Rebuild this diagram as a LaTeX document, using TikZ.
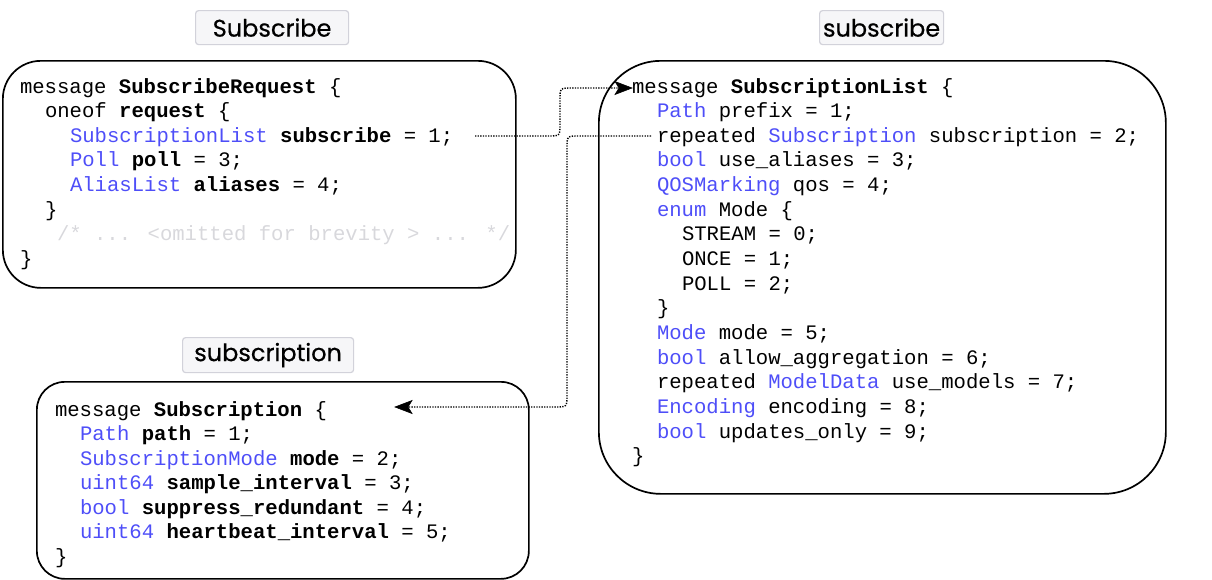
\documentclass[tikz,border=0pt]{standalone}
\usepackage{fontspec}
\newfontfamily\codefont{Liberation Mono}
\newfontfamily\labelfont[FakeBold=0.5]{Poppins}
\definecolor{tblue}{RGB}{78,78,248}
\definecolor{cgrey}{RGB}{216,216,220}
\definecolor{lblborder}{RGB}{210,210,218}
\definecolor{lblfill}{RGB}{246,246,248}
\newcommand\ty[1]{\textcolor{tblue}{#1}}
\newcommand\codeline[4]{\node[code] (#1) at (#2,#3) {#4};}
\tikzset{
  code/.style={anchor=base west, inner sep=0pt, outer sep=0pt, font=\codefont\fontsize{20.6}{24.6}\selectfont},
  msgbox/.style={draw=black, line width=1.7pt, anchor=north west, inner sep=0pt},
  lbl/.style={draw=lblborder, fill=lblfill, line width=1.2pt, rounded corners=3pt, anchor=north west, inner sep=0pt, font=\labelfont\fontsize{24}{27}\selectfont},
  link/.style={line width=1.4pt, dash pattern=on 1.3pt off 1.3pt},
  headfill/.style={fill=black, draw=black, line width=0.6pt, line join=miter}
}
\begin{document}
\begin{tikzpicture}[x=1pt,y=-1pt]
\useasboundingbox (0,0) rectangle (1212,579);
% boxes
\node[msgbox, rounded corners=38pt, minimum width=513pt, minimum height=227pt] (reqbox) at (2,60) {};
\node[msgbox, rounded corners=62pt, minimum width=567pt, minimum height=433pt] (listbox) at (598,60) {};
\node[msgbox, rounded corners=28pt, minimum width=492pt, minimum height=197pt] (subbox) at (36,381) {};
% labels
\node[lbl, minimum width=153pt, minimum height=34pt] (lblreq) at (195,10) {Subscribe};
\node[lbl, minimum width=124pt, minimum height=34pt] (lbllist) at (819,10) {subscribe};
\node[lbl, minimum width=171pt, minimum height=35pt] (lblsub) at (182,337) {subscription};
% SubscribeRequest
\codeline{r1}{20}{93}{message \textbf{SubscribeRequest} \{}
\codeline{r2}{45}{117.6}{oneof \textbf{request} \{}
\codeline{r3}{70}{142.2}{\ty{SubscriptionList} \textbf{subscribe} = 1;}
\codeline{r4}{70}{166.8}{\ty{Poll} \textbf{poll} = 3;}
\codeline{r5}{70}{191.4}{\ty{AliasList} \textbf{aliases} = 4;}
\codeline{r6}{45}{216}{\}}
\codeline{r7}{57}{240.6}{\textcolor{cgrey}{/* ... <omitted for brevity > ... */}}
\codeline{r8}{20}{265.2}{\}}
% SubscriptionList
\codeline{l1}{632}{93}{message \textbf{SubscriptionList} \{}
\codeline{l2}{657}{117.65}{\ty{Path} prefix = 1;}
\codeline{l3}{657}{142.3}{repeated \ty{Subscription} subscription = 2;}
\codeline{l4}{657}{166.95}{\ty{bool} use\_aliases = 3;}
\codeline{l5}{657}{191.6}{\ty{QOSMarking} qos = 4;}
\codeline{l6}{657}{216.25}{\ty{enum} Mode \{}
\codeline{l7}{682}{240.9}{STREAM = 0;}
\codeline{l8}{682}{265.55}{ONCE = 1;}
\codeline{l9}{682}{290.2}{POLL = 2;}
\codeline{l10}{657}{314.85}{\}}
\codeline{l11}{657}{339.5}{\ty{Mode} mode = 5;}
\codeline{l12}{657}{364.15}{\ty{bool} allow\_aggregation = 6;}
\codeline{l13}{657}{388.8}{repeated \ty{ModelData} use\_models = 7;}
\codeline{l14}{657}{413.45}{\ty{Encoding} encoding = 8;}
\codeline{l15}{657}{438.1}{\ty{bool} updates\_only = 9;}
\codeline{l16}{632}{462.75}{\}}
% Subscription
\codeline{s1}{55}{416}{message \textbf{Subscription} \{}
\codeline{s2}{80}{440.5}{\ty{Path} \textbf{path} = 1;}
\codeline{s3}{80}{465}{\ty{SubscriptionMode} \textbf{mode} = 2;}
\codeline{s4}{80}{489.5}{\ty{uint64} \textbf{sample\_interval} = 3;}
\codeline{s5}{80}{514}{\ty{bool} \textbf{suppress\_redundant} = 4;}
\codeline{s6}{80}{538.5}{\ty{uint64} \textbf{heartbeat\_interval} = 5;}
\codeline{s7}{55}{563}{\}}
% connectors
\coordinate (a1s) at (475,136);
\coordinate (a1m) at (618,88);
\coordinate (a1e) at (632,88);
\coordinate (a2s) at (651,136);
\coordinate (a2m) at (409,407);
\coordinate (a2e) at (395,407);
\draw[link] (a1s) -- (548,136) .. controls (560,136) .. (560,124) -- (560,100) .. controls (560,88) .. (572,88) -- (a1m);
\draw[headfill] (a1e) -- ++(-17,-6.5) -- ++(4,6.5) -- ++(-4,6.5) -- cycle;
\draw[link] (a2s) -- (579,136) .. controls (567,136) .. (567,148) -- (567,395) .. controls (567,407) .. (555,407) -- (a2m);
\draw[headfill] (a2e) -- ++(17,-6.5) -- ++(-4,6.5) -- ++(4,6.5) -- cycle;
\end{tikzpicture}
\end{document}
